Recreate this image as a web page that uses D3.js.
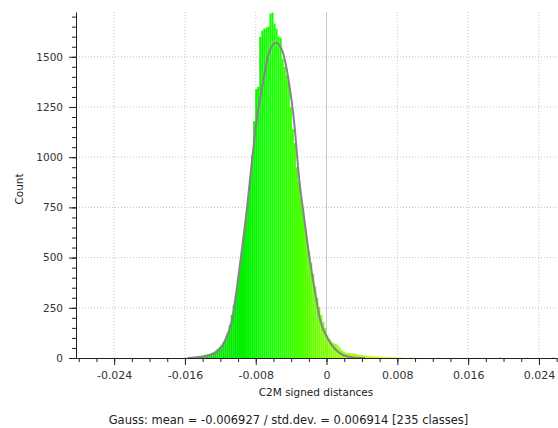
<!DOCTYPE html>
<html><head><meta charset="utf-8">
<script src="https://cdn.jsdelivr.net/npm/d3@7"></script>
<style>body{margin:0;background:#fff;} svg{display:block;font-family:"DejaVu Sans",sans-serif;}</style>
</head><body><svg id="c" width="558" height="428"></svg>
<script>
// ---- data ----
const classTotal = 235;
const classMin = -0.0283;
const classWidth = 0.00023;
const firstClass = 60;
const classCounts = [
  4, 6, 7, 9, 13, 17, 22, 28, 36, 45,
  53, 64, 78, 95, 125, 165, 215, 265, 320, 400,
  465, 530, 630, 700, 800, 900, 1010, 1180, 1340, 1350,
  1600, 1630, 1640, 1645, 1650, 1715, 1720, 1665, 1640, 1600,
  1595, 1490, 1450, 1410, 1370, 1250, 1140, 1070, 950, 880,
  800, 750, 670, 590, 530, 475, 420, 355, 300, 255,
  215, 180, 150, 115, 95, 82, 75, 70, 64, 52,
  40, 32, 27, 25, 24, 23, 22, 20, 17, 15,
  14, 13, 12, 11, 10, 9, 8, 7, 7, 6,
  6, 5, 5, 4, 4, 3, 3, 3, 2, 2, 2
];
const tailClasses = [164, 170, 178, 188, 197, 208, 221, 234];
const tailCounts  = [2, 1, 1, 1, 1, 2, 1, 2];

const xTicks = [-0.024, -0.016, -0.008, 0, 0.008, 0.016, 0.024];
const xTickLabels = ["-0.024", "-0.016", "-0.008", "0", "0.008", "0.016", "0.024"];
const yTicks = [0, 250, 500, 750, 1000, 1250, 1500];
const yTickLabels = ["0", "250", "500", "750", "1000", "1250", "1500"];

// Gauss curve (value, count)
const gaussX = [-0.01570, -0.01486, -0.01373, -0.01260, -0.01147, -0.01068, -0.01011, -0.00955, -0.00898, -0.00842, -0.00785, -0.00718, -0.00650, -0.00571, -0.00492, -0.00424, -0.00367, -0.00311, -0.00254, -0.00186, -0.00130, -0.00073, 0.00017, 0.00096, 0.00186, 0.00299, 0.00435];
const gaussY = [0, 3, 10, 25, 88, 190, 355, 545, 750, 985, 1200, 1370, 1520, 1570, 1520, 1370, 1180, 900, 700, 480, 330, 190, 95, 45, 15, 3, 0];

const colorStops = [-0.016, -0.010, -0.006, 0, 0.004, 0.008, 0.016, 0.026];
const colorValues = ["#00d400", "#00ee00", "#14ff00", "#80ff00", "#b0ff00", "#e0ff00", "#ffc000", "#ff6000"];

const titleX = "C2M signed distances";
const titleY = "Count";
const footer = "Gauss: mean = -0.006927 / std.dev. = 0.006914 [235 classes]";

// ---- chart ----
const svg = d3.select("#c");
const x = d3.scaleLinear().domain([-0.02831, 0.02604]).range([76, 557]);
const y = d3.scaleLinear().domain([0, 1723]).range([358, 12]);
const color = d3.scaleLinear().domain(colorStops).range(colorValues).clamp(true);

const bins = classCounts.map((c, k) => ({ i: firstClass + k, c }))
  .concat(tailClasses.map((i, k) => ({ i, c: tailCounts[k] })));

// grid
const grid = svg.append("g");
grid.selectAll("line.h").data(yTicks.slice(1)).join("line")
  .attr("x1", 76).attr("x2", 557).attr("y1", d => y(d)).attr("y2", d => y(d))
  .attr("stroke", "#c4c4c4").attr("stroke-dasharray", "1,2");
grid.selectAll("line.v").data(xTicks.filter(d => d !== 0)).join("line")
  .attr("x1", d => x(d)).attr("x2", d => x(d)).attr("y1", y.range()[1]).attr("y2", y(0))
  .attr("stroke", "#c4c4c4").attr("stroke-dasharray", "1,2");
svg.append("line").attr("x1", x(0)).attr("x2", x(0)).attr("y1", y.range()[1]).attr("y2", y(0))
  .attr("stroke", "#c8c8c8").attr("stroke-width", 1);

// bars
svg.append("g").selectAll("rect").data(bins).join("rect")
  .attr("x", d => x(classMin + d.i * classWidth))
  .attr("width", d => x(classMin + (d.i + 1) * classWidth) - x(classMin + d.i * classWidth))
  .attr("y", d => y(d.c))
  .attr("height", d => y(0) - y(d.c))
  .attr("fill", d => color(classMin + (d.i + 0.5) * classWidth));

// gauss curve
const line = d3.line().x((d, k) => x(gaussX[k])).y(d => y(d)).curve(d3.curveMonotoneX);
svg.append("path").attr("d", line(gaussY)).attr("fill", "none")
  .attr("stroke", "#858585").attr("stroke-width", 2);

// axes
const axisColor = "#222";
const yAxis = svg.append("g").attr("transform", "translate(76,0)")
  .call(d3.axisLeft(y).tickValues(yTicks).tickFormat((d, k) => yTickLabels[k]).tickSize(7).tickSizeOuter(0).tickPadding(6));
svg.append("g").attr("transform", "translate(76,0)")
  .call(d3.axisLeft(y).tickValues(d3.range(0, 1701, 50)).tickFormat("").tickSize(4).tickSizeOuter(0))
  .select(".domain").remove();
const xAxis = svg.append("g").attr("transform", "translate(0,358)")
  .call(d3.axisBottom(x).tickValues(xTicks).tickFormat((d, k) => xTickLabels[k]).tickSize(7).tickSizeOuter(0).tickPadding(6));
svg.append("g").attr("transform", "translate(0,358)")
  .call(d3.axisBottom(x).tickValues(d3.range(-28, 27, 2).map(v => v / 1000)).tickFormat("").tickSize(4).tickSizeOuter(0))
  .select(".domain").remove();
svg.selectAll(".domain, .tick line").attr("stroke", axisColor);
yAxis.selectAll("text").attr("font-size", 10.5).attr("fill", "#333").attr("font-family", "DejaVu Sans");
xAxis.selectAll("text").attr("font-size", 11).attr("fill", "#333").attr("font-family", "DejaVu Sans");

// titles
svg.append("text").attr("transform", "translate(23,189) rotate(-90)")
  .attr("text-anchor", "middle").attr("font-size", 10.5).attr("fill", "#222").text(titleY);
svg.append("text").attr("x", 316).attr("y", 396).attr("text-anchor", "middle")
  .attr("font-size", 10.5).attr("fill", "#222").text(titleX);
svg.append("text").attr("x", 288.5).attr("y", 424).attr("text-anchor", "middle")
  .attr("font-size", 11.5).attr("fill", "#222").text(footer);
</script></body></html>
